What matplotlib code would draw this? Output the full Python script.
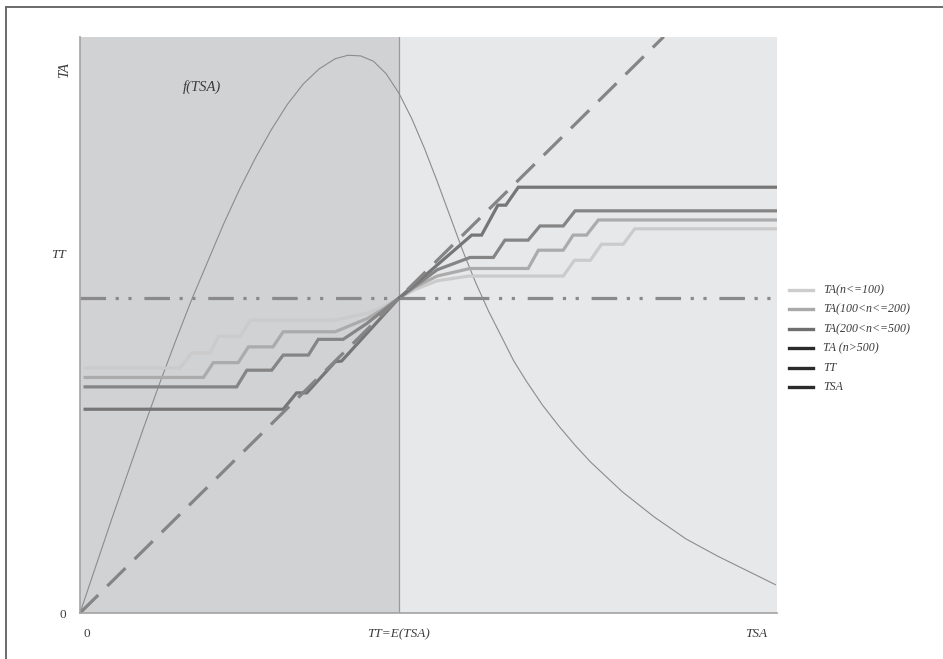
import matplotlib
matplotlib.use("Agg")
import matplotlib.pyplot as plt
from matplotlib.lines import Line2D

# ---- data (x: TSA, y: TA; TT = E(TSA) = 1) ----
X_MAX = 2.185
Y_MAX = 1.829

# density f(TSA)
f_x = [0.0, 0.05, 0.10, 0.15, 0.20, 0.25, 0.30, 0.35, 0.40, 0.45, 0.50, 0.55,
       0.60, 0.65, 0.70, 0.75, 0.80, 0.84, 0.88, 0.92, 0.96, 1.00, 1.04, 1.08,
       1.12, 1.16, 1.20, 1.24, 1.28, 1.32, 1.36, 1.40, 1.45, 1.50, 1.55, 1.60,
       1.70, 1.80, 1.90, 2.00, 2.10, 2.18]
f_y = [0.0, 0.15, 0.30, 0.445, 0.59, 0.73, 0.865, 0.995, 1.115, 1.235, 1.345, 1.445,
       1.535, 1.615, 1.68, 1.728, 1.76, 1.771, 1.769, 1.752, 1.712, 1.65, 1.57, 1.475,
       1.37, 1.26, 1.15, 1.05, 0.96, 0.88, 0.80, 0.735, 0.66, 0.595, 0.535, 0.48,
       0.385, 0.305, 0.235, 0.18, 0.13, 0.09]

# TA step curves by sample size
ta1_x = [0.016, 0.313, 0.351, 0.408, 0.434, 0.502, 0.535, 0.80, 0.90, 0.95, 1.0,
         1.05, 1.12, 1.22, 1.515, 1.55, 1.60, 1.635, 1.703, 1.739, 2.18]
ta1_y = [0.778, 0.778, 0.826, 0.826, 0.879, 0.879, 0.93, 0.93, 0.952, 0.973, 1.0,
         1.027, 1.055, 1.07, 1.07, 1.12, 1.12, 1.171, 1.171, 1.22, 1.22]

ta2_x = [0.016, 0.387, 0.418, 0.496, 0.528, 0.605, 0.637, 0.80, 0.90, 0.95, 1.0,
         1.05, 1.12, 1.223, 1.405, 1.437, 1.515, 1.546, 1.588, 1.625, 2.18]
ta2_y = [0.748, 0.748, 0.795, 0.795, 0.845, 0.845, 0.893, 0.893, 0.935, 0.965, 1.0,
         1.035, 1.07, 1.094, 1.094, 1.152, 1.152, 1.20, 1.20, 1.248, 1.248]

ta3_x = [0.016, 0.491, 0.523, 0.601, 0.637, 0.716, 0.747, 0.825, 0.90, 0.95, 1.0,
         1.06, 1.12, 1.223, 1.296, 1.332, 1.405, 1.442, 1.515, 1.552, 2.18]
ta3_y = [0.718, 0.718, 0.771, 0.771, 0.819, 0.819, 0.869, 0.869, 0.92, 0.96, 1.0,
         1.045, 1.09, 1.129, 1.129, 1.184, 1.184, 1.229, 1.229, 1.277, 1.277]

ta4_x = [0.016, 0.637, 0.679, 0.711, 0.80, 0.82, 1.0, 1.228, 1.259, 1.31, 1.335,
         1.374, 2.18]
ta4_y = [0.647, 0.647, 0.699, 0.699, 0.798, 0.80, 1.0, 1.20, 1.20, 1.295, 1.295,
         1.352, 1.352]

tt_level = 1.0
tsa_x = [0.0, 1.83]

x_ticks = [0.02, 1.0, 2.12]
x_tick_labels = ["0", "TT=E(TSA)", "TSA"]
y_ticks = [0.0, 1.143]
y_tick_labels = ["0", "TT"]

legend_labels = ["TA(n<=100)", "TA(100<n<=200)", "TA(200<n<=500)", "TA (n>500)", "TT", "TSA"]
legend_colors = ["#cdcdcd", "#a9a9a9", "#6e6e6e", "#2b2b2b", "#2b2b2b", "#2b2b2b"]

# ---- styling ----
SERIF = ["Liberation Serif", "DejaVu Serif"]
TXT = "#3c3c3c"
W, H = 943, 659

fig = plt.figure(figsize=(W / 100, H / 100), dpi=100)
ax = fig.add_axes([80 / W, 1 - 613 / H, 697 / W, 576 / H])
ax.set_xlim(0, X_MAX)
ax.set_ylim(0, Y_MAX)
ax.set_facecolor("white")

# shaded halves
ax.axvspan(0, 1.0, color="#d1d2d4", zorder=0, lw=0)
ax.axvspan(1.0, X_MAX, color="#e7e8ea", zorder=0, lw=0)
ax.axvline(1.0, color="#9a9a9a", lw=0.9, zorder=1)

# density curve
ax.plot(f_x, f_y, color="#8c8c8c", lw=0.8, zorder=2)

# TA step curves
ax.plot(ta1_x, ta1_y, color="#cbcbcb", lw=2.3, zorder=3, solid_joinstyle="miter")
ax.plot(ta2_x, ta2_y, color="#ababab", lw=2.3, zorder=3, solid_joinstyle="miter")
ax.plot(ta3_x, ta3_y, color="#858585", lw=2.3, zorder=3, solid_joinstyle="miter")
ax.plot(ta4_x, ta4_y, color="#767676", lw=2.3, zorder=3, solid_joinstyle="miter")

# TT level and TSA diagonal
ax.plot([0.0, X_MAX], [tt_level, tt_level], color="#8a8a8a", lw=2.3,
        dashes=(8, 3, 1, 3, 1, 4), zorder=4)
ax.plot(tsa_x, tsa_x, color="#858585", lw=2.3, dashes=(8, 4), zorder=5)

ax.text(0.382, 1.67, "f(TSA)", family=SERIF, style="italic", fontsize=10.5,
        color=TXT, ha="center", va="center")

# axes
for s in ("top", "right"):
    ax.spines[s].set_visible(False)
for s in ("left", "bottom"):
    ax.spines[s].set_color("#a3a3a3")
    ax.spines[s].set_linewidth(1.2)
    ax.spines[s].set_zorder(6)
ax.set_xticks(x_ticks)
ax.set_xticklabels(x_tick_labels)
ax.set_yticks(y_ticks)
ax.set_yticklabels(y_tick_labels)
ax.tick_params(length=0, labelsize=9.5, labelcolor=TXT)
ax.tick_params(axis="x", pad=11)
ax.tick_params(axis="y", pad=10)
for lab in ax.get_xticklabels() + ax.get_yticklabels():
    lab.set_family(SERIF)
    lab.set_style("italic")
ax.get_xticklabels()[0].set_style("normal")
ax.get_yticklabels()[0].set_style("normal")

fig.text(65 / W, 1 - 70 / H, "TA", family=SERIF, style="italic", fontsize=10.5,
         color=TXT, rotation=90, ha="center", va="center")

# legend
rows = [290, 309.3, 329.3, 348.3, 367.7, 386.7]
for yy, lab, col in zip(rows, legend_labels, legend_colors):
    fy = 1 - yy / H
    fig.add_artist(Line2D([789 / W, 813 / W], [fy, fy], color=col, lw=2.4,
                          transform=fig.transFigure))
    fig.text(823 / W, fy, lab, family=SERIF, style="italic", fontsize=8.6,
             color=TXT, ha="left", va="center")

# outer frame
fy_top = 1 - 7 / H
fx_left = 6 / W
fig.add_artist(Line2D([fx_left, 1.0], [fy_top, fy_top], color="#6a6a6a", lw=1.4,
                      transform=fig.transFigure))
fig.add_artist(Line2D([fx_left, fx_left], [0.0, fy_top], color="#6a6a6a", lw=1.4,
                      transform=fig.transFigure))

fig.savefig("out.png", dpi=100)
